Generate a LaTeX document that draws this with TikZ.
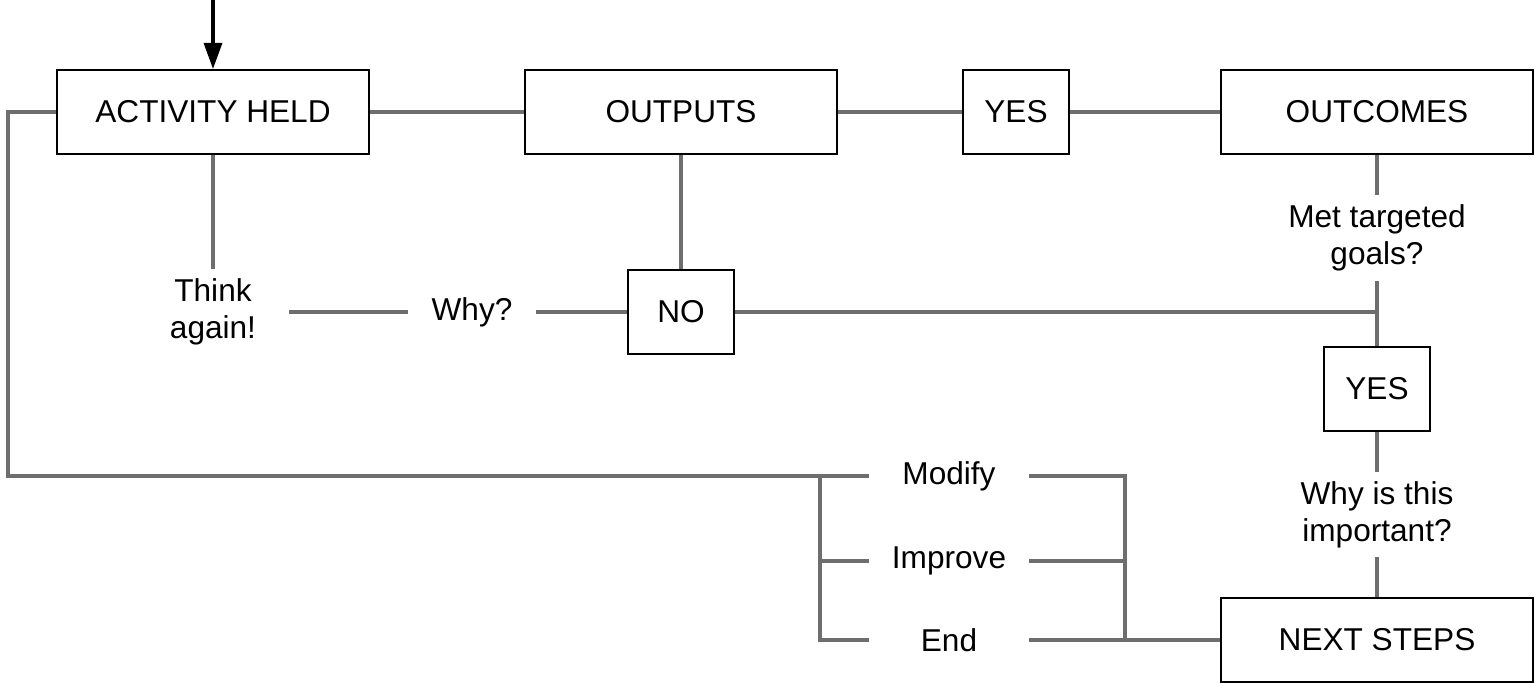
\documentclass[tikz,border=0pt]{standalone}
\usepackage{fontspec}
\setmainfont{Liberation Sans}
\usetikzlibrary{arrows.meta}
\definecolor{linegray}{RGB}{110,110,110}

\begin{document}
\begin{tikzpicture}[x=0.5pt,y=-0.5pt,
	font=\fontsize{15.8}{18.5}\selectfont,
	box/.style={draw=black,line width=1pt,inner sep=0pt,minimum height=42pt},
	lbl/.style={inner sep=0pt,align=center},
	link/.style={draw=linegray,line width=2pt}]
			\useasboundingbox (0,0) rectangle (1535,683);
			\node[box,minimum width=156pt] (act) at (213,112) {ACTIVITY HELD};
			\node[box,minimum width=156pt] (outp) at (681,112) {OUTPUTS};
			\node[box,minimum width=53pt] (yesa) at (1016,112) {YES};
			\node[box,minimum width=156pt] (outc) at (1377,112) {OUTCOMES};
			\node[box,minimum width=53pt] (no) at (681,312) {NO};
			\node[box,minimum width=53pt] (yesb) at (1377,389) {YES};
			\node[box,minimum width=156pt] (next) at (1377,640) {NEXT STEPS};

			\node[lbl,minimum width=76pt,minimum height=43pt] (think) at (213,312) {Think\\again!};
			\node[lbl,minimum width=64pt] (why) at (472,312) {Why?};
			\node[lbl,minimum height=42.5pt] (met) at (1377,238) {Met targeted\\goals?};
			\node[lbl,minimum height=42.5pt] (whyb) at (1377,514.5) {Why is this\\important?};
			\node[lbl,minimum width=80pt] (modify) at (949,476) {Modify};
			\node[lbl,minimum width=80pt] (improve) at (949,561) {Improve};
			\node[lbl,minimum width=80pt] (finish) at (949,640) {End};

			\coordinate (top) at (213,0);
			\coordinate (loop) at (8,476);
			\coordinate (lb) at (820,476);
			\coordinate (rb) at (1125,476);

			\draw[-{Triangle[length=13pt,width=9pt]},line width=1.6pt] (top) -- (act.north);

			\draw[link] (act.east) -- (outp.west);
			\draw[link] (outp.east) -- (yesa.west);
			\draw[link] (yesa.east) -- (outc.west);
			\draw[link] (act.south) -- (think.north);
			\draw[link] (think.east) -- (why.west);
			\draw[link] (why.east) -- (no.west);
			\draw[link] (outp.south) -- (no.north);
			\draw[link] (outc.south) -- (met.north);
			\draw[link] (met.south) -- (yesb.north);
			\draw[link] (no.east) -- (met.south |- no.east);
			\draw[link] (yesb.south) -- (whyb.north);
			\draw[link] (whyb.south) -- (next.north);

			\draw[link] (act.west) -| (loop) -- (modify.west);
			\draw[link] (lb) |- (finish.west);
			\draw[link] (improve.west) -- (lb |- improve.west);
			\draw[link] (modify.east) -| (rb) |- (next.west);
			\draw[link] (improve.east) -- (rb |- improve.east);
			\draw[link] (finish.east) -- (rb |- finish.east);
		\end{tikzpicture}
\end{document}
